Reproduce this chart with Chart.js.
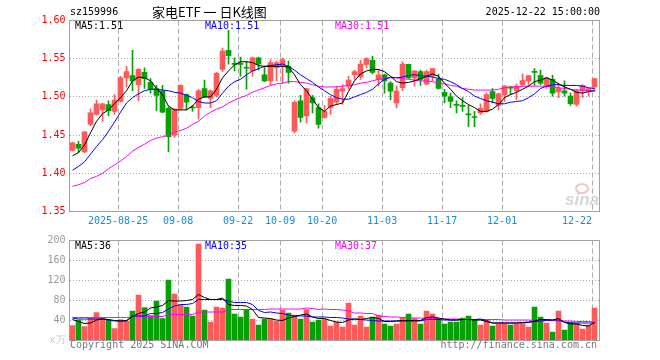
<!DOCTYPE html>
<html><head><meta charset="utf-8">
<script src="https://cdn.jsdelivr.net/npm/chart.js@4.4.0/dist/chart.umd.min.js"></script>
<style>
html,body{margin:0;padding:0;background:#fff;}
#wrap{position:relative;width:660px;height:360px;overflow:hidden;font-family:"DejaVu Sans Mono",monospace;font-size:10px;color:#000;}
#wrap canvas{position:absolute;left:0;}
.t{position:absolute;white-space:pre;line-height:12px;}
</style></head><body>
<div id="wrap">
<canvas id="pc" width="660" height="232" style="top:0"></canvas>
<canvas id="vc" width="660" height="130" style="top:230px"></canvas>
<div class="t" style="left:70px;top:6px">sz159996</div>
<div class="t" style="left:152px;top:5px;font-family:'Noto Sans CJK SC';font-size:13px;line-height:14px">家电ETF 一 日K线图</div>
<div class="t" style="right:60px;top:6px">2025-12-22 15:00:00</div>
<div class="t" id="pl5" style="left:75px;top:20px;color:#000"></div>
<div class="t" id="pl10" style="left:205px;top:20px;color:#0000ff"></div>
<div class="t" id="pl30" style="left:335px;top:20px;color:#ff00ff"></div>
<div class="t" id="vl5" style="left:75px;top:240px;color:#000"></div>
<div class="t" id="vl10" style="left:205px;top:240px;color:#0000ff"></div>
<div class="t" id="vl30" style="left:335px;top:240px;color:#ff00ff"></div>
<div style="position:absolute;left:575px;top:183px;width:10px;height:7px;border:2px solid #f3c6c6;border-radius:50%"></div>
<div class="t" style="left:565px;top:191px;font:italic bold 17px 'Liberation Sans';line-height:17px;color:#d6d6d6">sina</div>
<div class="t" style="left:70px;top:339px;color:#777">Copyright 2025 SINA.COM</div>
<div class="t" style="right:63px;top:339px;color:#777">http://finance.sina.com.cn</div>
</div>
<script>
const dates = ['08-13','08-14','08-15','08-18','08-19','08-20','08-21','08-22','08-25','08-26',
'08-27','08-28','08-29','09-01','09-02','09-03','09-04','09-05','09-08','09-09',
'09-10','09-11','09-12','09-15','09-16','09-17','09-18','09-19','09-22','09-23',
'09-24','09-25','09-26','09-29','09-30','10-09','10-10','10-13','10-14','10-15',
'10-16','10-17','10-20','10-21','10-22','10-23','10-24','10-27','10-28','10-29',
'10-30','10-31','11-03','11-04','11-05','11-06','11-07','11-10','11-11','11-12',
'11-13','11-14','11-17','11-18','11-19','11-20','11-21','11-24','11-25','11-26',
'11-27','11-28','12-01','12-02','12-03','12-04','12-05','12-08','12-09','12-10',
'12-11','12-12','12-15','12-16','12-17','12-18','12-19','12-22'];

const open = [1.430,1.438,1.428,1.464,1.477,1.483,1.490,1.481,1.494,1.525,
1.528,1.516,1.532,1.519,1.511,1.508,1.485,1.450,1.485,1.503,
1.486,1.486,1.511,1.498,1.502,1.536,1.561,1.543,1.543,1.5385,
1.534,1.551,1.529,1.521,1.538,1.540,1.540,1.455,1.495,1.475,
1.499,1.486,1.473,1.486,1.493,1.5075,1.514,1.529,1.526,1.5425,
1.548,1.523,1.529,1.518,1.492,1.512,1.5425,1.525,1.533,1.517,
1.527,1.523,1.506,1.500,1.4895,1.488,1.477,1.4735,1.479,1.481,
1.507,1.489,1.503,1.512,1.508,1.516,1.521,1.533,1.528,1.515,
1.523,1.5065,1.508,1.501,1.490,1.508,1.5075,1.513];
const high = [1.441,1.442,1.455,1.484,1.496,1.492,1.495,1.503,1.527,1.540,
1.561,1.537,1.538,1.524,1.515,1.515,1.487,1.484,1.516,1.504,
1.489,1.510,1.522,1.509,1.532,1.564,1.587,1.551,1.552,1.547,
1.552,1.552,1.540,1.549,1.547,1.551,1.547,1.495,1.502,1.511,
1.502,1.491,1.489,1.501,1.514,1.516,1.527,1.535,1.548,1.551,
1.5535,1.536,1.530,1.520,1.514,1.546,1.543,1.534,1.535,1.535,
1.537,1.530,1.510,1.505,1.495,1.499,1.489,1.481,1.491,1.505,
1.511,1.505,1.515,1.514,1.517,1.530,1.528,1.537,1.535,1.526,
1.5285,1.518,1.521,1.505,1.510,1.516,1.511,1.524];
const low = [1.429,1.427,1.427,1.462,1.476,1.468,1.475,1.477,1.493,1.513,
1.508,1.495,1.511,1.505,1.482,1.479,1.428,1.447,1.483,1.483,
1.481,1.471,1.499,1.486,1.500,1.533,1.543,1.534,1.527,1.510,
1.527,1.535,1.520,1.516,1.521,1.518,1.518,1.453,1.467,1.466,
1.479,1.459,1.472,1.477,1.490,1.490,1.510,1.523,1.523,1.538,
1.530,1.514,1.505,1.4965,1.4855,1.508,1.524,1.514,1.515,1.516,
1.521,1.510,1.492,1.486,1.479,1.481,1.461,1.461,1.477,1.480,
1.492,1.483,1.494,1.503,1.4965,1.514,1.515,1.515,1.516,1.511,
1.501,1.499,1.501,1.489,1.488,1.499,1.501,1.5075];
const close = [1.440,1.433,1.454,1.479,1.491,1.491,1.482,1.496,1.525,1.533,
1.521,1.536,1.524,1.510,1.502,1.480,1.448,1.484,1.515,1.493,
1.4855,1.508,1.500,1.508,1.531,1.560,1.554,1.5425,1.5425,1.5375,
1.551,1.543,1.521,1.545,1.545,1.549,1.532,1.493,1.473,1.511,
1.492,1.464,1.481,1.498,1.510,1.511,1.522,1.533,1.543,1.550,
1.532,1.529,1.521,1.5075,1.5075,1.543,1.525,1.534,1.523,1.533,
1.537,1.511,1.501,1.494,1.489,1.4875,1.4765,1.473,1.485,1.503,
1.498,1.504,1.514,1.5115,1.514,1.5215,1.528,1.532,1.518,1.525,
1.505,1.511,1.505,1.491,1.508,1.515,1.511,1.524];

const ma5 = [1.423,1.427,1.437,1.453,1.468,1.478,1.483,1.491,1.499,1.508,
1.521,1.526,1.525,1.521,1.511,1.503,1.488,1.483,1.483,1.483,
1.488,1.497,1.500,1.500,1.510,1.525,1.534,1.542,1.546,1.546,
1.545,1.541,1.540,1.540,1.540,1.540,1.539,1.529,1.516,1.508,
1.497,1.486,1.481,1.488,1.490,1.492,1.507,1.521,1.530,1.534,
1.536,1.536,1.533,1.527,1.520,1.518,1.519,1.521,1.524,1.527,
1.530,1.527,1.518,1.510,1.501,1.495,1.490,1.486,1.481,1.481,
1.484,1.490,1.499,1.503,1.506,1.510,1.514,1.520,1.522,1.525,
1.522,1.517,1.513,1.510,1.506,1.505,1.507,1.508];
const ma10 = [1.404,1.409,1.415,1.425,1.435,1.444,1.455,1.467,1.480,1.492,
1.499,1.504,1.508,1.510,1.510,1.509,1.508,1.506,1.505,1.502,
1.499,1.494,1.492,1.492,1.495,1.505,1.514,1.520,1.523,1.529,
1.534,1.537,1.540,1.541,1.542,1.543,1.540,1.535,1.529,1.524,
1.519,1.513,1.508,1.503,1.499,1.497,1.497,1.500,1.503,1.506,
1.510,1.517,1.523,1.526,1.525,1.526,1.528,1.529,1.528,1.527,
1.526,1.524,1.523,1.520,1.516,1.511,1.507,1.501,1.498,1.495,
1.493,1.491,1.491,1.493,1.494,1.495,1.499,1.504,1.511,1.514,
1.516,1.516,1.515,1.515,1.515,1.514,1.512,1.511];
const ma30 = [1.383,1.385,1.388,1.393,1.396,1.400,1.406,1.411,1.416,1.422,
1.429,1.434,1.438,1.443,1.446,1.448,1.450,1.454,1.456,1.459,
1.464,1.468,1.475,1.480,1.484,1.487,1.492,1.496,1.499,1.502,
1.506,1.509,1.512,1.515,1.517,1.518,1.520,1.520,1.519,1.518,
1.516,1.514,1.513,1.513,1.513,1.514,1.515,1.516,1.518,1.519,
1.521,1.523,1.524,1.525,1.525,1.524,1.523,1.522,1.521,1.521,
1.520,1.518,1.517,1.515,1.514,1.511,1.510,1.509,1.509,1.509,
1.509,1.510,1.512,1.513,1.513,1.514,1.514,1.514,1.514,1.514,
1.513,1.512,1.511,1.510,1.509,1.509,1.508,1.508];

const volume = [30,41,28,45,56,45,41,24,42,39,
59,91,66,50,79,44,121,93,71,67,
49,193,61,37,67,65,123,53,47,62,
43,31,43,43,39,61,55,51,43,62,
37,41,43,29,37,27,75,31,49,27,
47,51,33,29,33,46,53,44,33,59,
53,44,33,37,37,45,49,41,31,41,
29,33,33,31,33,33,27,67,47,35,
17,59,21,37,35,23,31,65];
const volMa5 = [42,38,34,35,41,43,42,40,39,40,
48,54,57,65,67,70,80,79,79,80,
82,92,86,82,82,85,72,70,70,69,
62,46,45,44,41,40,45,48,51,53,
47,44,44,40,37,36,41,43,42,44,
46,44,38,38,39,40,40,40,40,46,
47,45,43,41,41,42,42,41,41,38,
35,35,35,35,35,36,37,39,42,42,
41,44,36,33,33,30,29,36];
const volMa10 = [45,43,43,43,43,43,41,39,39,39,
49,49,49,54,54,56,63,69,72,72,
74,82,82,82,82,82,79,76,76,76,
72,60,56,57,55,54,51,49,49,49,
47,47,47,46,46,45,43,43,42,41,
40,39,39,39,39,39,39,39,39,42,
42,42,41,41,41,42,42,42,43,40,
35,35,35,35,35,35,36,38,39,40,
41,41,37,35,35,35,35,35];
const volMa30 = [46,46,46,46,46,46,46,46,46,46,
46,48,48,48,48,48,52,52,52,52,
52,57,57,57,57,57,62,62,62,62,
62,62,62,63,63,63,63,63,63,65,
64,62,63,62,62,61,59,55,55,54,
54,49,48,47,47,46,46,45,45,44,
44,44,43,43,43,42,42,42,42,42,
42,42,41,41,41,41,41,40,40,40,
40,39,39,39,38,38,38,37];

const tickDays = ['08-25','09-08','09-22','10-09','10-20','11-03','11-17','12-01','12-22'];
const tickLabels = ['2025-08-25','09-08','09-22','10-09','10-20','11-03','11-17','12-01','12-22'];

const UP = '#ff5a5a', DOWN = '#07a007';
const idx = dates.map((d, i) => i);
const tickIdx = tickDays.map(d => dates.indexOf(d));
const colors = idx.map(i => close[i] >= open[i] ? UP : DOWN);
const xy = arr => arr.map((v, i) => ({x: i, y: v}));
const FONT = {family: 'DejaVu Sans Mono', size: 10};

const framePlugin = {
  id: 'frame',
  afterDraw(chart) {
    const {ctx, chartArea: a} = chart;
    ctx.save();
    ctx.strokeStyle = '#a0a0a0';
    ctx.lineWidth = 1;
    ctx.setLineDash([]);
    ctx.strokeRect(a.left, a.top, a.right - a.left, a.bottom - a.top);
    ctx.restore();
  }
};

function xScale(showLabels, h) {
  return {
    type: 'linear', min: -0.5, max: dates.length - 0.17,
    offset: false,
    afterBuildTicks: s => { s.ticks = tickIdx.map(i => ({value: i - 0.4})); },
    afterFit: s => { s.height = h; },
    grid: {color: '#aaaaaa', lineWidth: 1, drawTicks: false, offset: false},
    border: {display: false, dash: [5, 3]},
    ticks: {
      display: showLabels, autoSkip: false, maxRotation: 0, minRotation: 0, padding: 4,
      color: '#1a8bd5', font: FONT,
      callback: (v, i) => i === tickLabels.length - 1 ? tickLabels[i] + '     ' : tickLabels[i]
    }
  };
}

const common = {
  responsive: false, animation: false, events: [],
  plugins: {legend: {display: false}, tooltip: {enabled: false}}
};

new Chart(document.getElementById('pc'), {
  type: 'bar',
  data: {
    datasets: [
      {type: 'line', data: xy(ma5), borderColor: '#000000', borderWidth: 1, pointRadius: 0, tension: 0, order: 0},
      {type: 'line', data: xy(ma10), borderColor: '#0000ff', borderWidth: 1, pointRadius: 0, tension: 0, order: 0},
      {type: 'line', data: xy(ma30), borderColor: '#ff00ff', borderWidth: 1, pointRadius: 0, tension: 0, order: 0},
      {type: 'bar', data: idx.map(i => ({x: i, y: [open[i], close[i]]})), backgroundColor: colors,
        barThickness: 5, minBarLength: 1, grouped: false, borderWidth: 0, order: 2},
      {type: 'bar', data: idx.map(i => ({x: i, y: [low[i], high[i]]})), backgroundColor: colors,
        barThickness: 1, grouped: false, borderWidth: 0, order: 3}
    ]
  },
  options: Object.assign({}, common, {
    layout: {padding: {left: 0, top: 20.5, right: 60.5, bottom: 0}},
    scales: {
      x: xScale(true, 20.5),
      y: {
        type: 'linear', min: 1.35, max: 1.60,
        afterFit: s => { s.width = 69.5; },
        grid: {color: '#a8a8a8', lineWidth: 1, drawTicks: false},
        border: {display: false, dash: [1, 2]},
        ticks: {stepSize: 0.05, padding: 4, color: '#ff0000', font: FONT, callback: v => v.toFixed(2)}
      }
    }
  }),
  plugins: [framePlugin]
});

new Chart(document.getElementById('vc'), {
  type: 'bar',
  data: {
    datasets: [
      {type: 'line', data: xy(volMa5), borderColor: '#000000', borderWidth: 1, pointRadius: 0, tension: 0, order: 0},
      {type: 'line', data: xy(volMa10), borderColor: '#0000ff', borderWidth: 1, pointRadius: 0, tension: 0, order: 0},
      {type: 'line', data: xy(volMa30), borderColor: '#ff00ff', borderWidth: 1, pointRadius: 0, tension: 0, order: 0},
      {type: 'bar', data: xy(volume), backgroundColor: colors, barThickness: 5, grouped: false, borderWidth: 0, order: 2}
    ]
  },
  options: Object.assign({}, common, {
    layout: {padding: {left: 0, top: 10.5, right: 60.5, bottom: 0}},
    scales: {
      x: xScale(false, 19.5),
      y: {
        type: 'linear', min: 0, max: 200,
        afterFit: s => { s.width = 69.5; },
        grid: {color: '#a8a8a8', lineWidth: 1, drawTicks: false},
        border: {display: false, dash: [1, 2]},
        ticks: {stepSize: 40, padding: 4, font: FONT,
          color: c => c.tick && c.tick.value === 0 ? '#c8c8c8' : '#999999',
          callback: v => v === 0 ? 'x万' : String(v)}
      }
    }
  }),
  plugins: [framePlugin]
});

const last = a => a[a.length - 1];
document.getElementById('pl5').textContent = 'MA5:' + last(ma5).toFixed(2);
document.getElementById('pl10').textContent = 'MA10:' + last(ma10).toFixed(2);
document.getElementById('pl30').textContent = 'MA30:' + last(ma30).toFixed(2);
document.getElementById('vl5').textContent = 'MA5:' + Math.round(last(volMa5));
document.getElementById('vl10').textContent = 'MA10:' + Math.round(last(volMa10));
document.getElementById('vl30').textContent = 'MA30:' + Math.round(last(volMa30));
</script>
</body></html>
